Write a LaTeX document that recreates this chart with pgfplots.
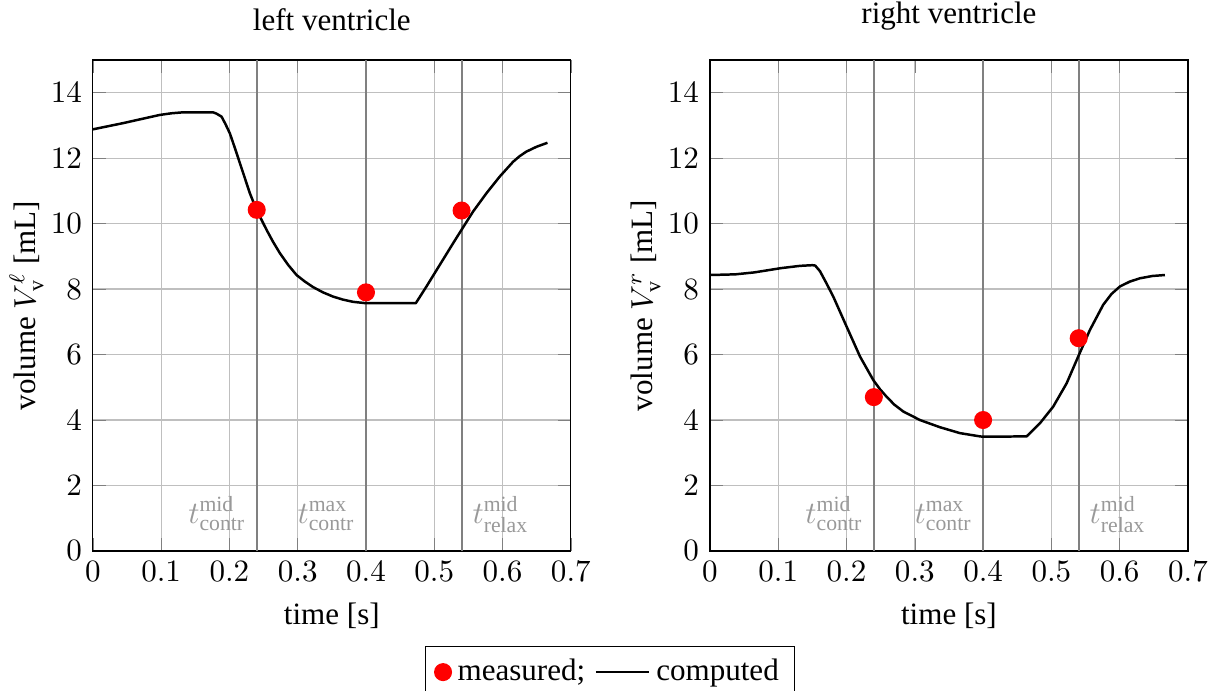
\documentclass[border=0pt]{standalone}
\usepackage{fontspec}
\setmainfont{Liberation Serif}
\usepackage{pgfplots}
\pgfplotsset{compat=1.18}

\tikzset{tlab/.style={black!40}}
\pgfplotsset{
  vent/.style={
    width=153.9pt, height=158.1pt, scale only axis,
    xmin=0, xmax=0.7, ymin=0, ymax=15,
    xtick={0,0.1,0.2,0.3,0.4,0.5,0.6,0.7},
    ytick={0,2,4,6,8,10,12,14},
    grid=major,
    major grid style={thin, black!25},
    xlabel={time [s]},
    ylabel shift=-4.5pt,
  },
  vline/.style={gray, semithick, forget plot},
  comp/.style={black, thick, line join=round},
  meas/.style={only marks, mark=*, red, mark size=2.7pt},
}

\begin{document}
\begin{tikzpicture}
\path[use as bounding box] (-29.9pt,-44.8pt) rectangle (362.6pt,177.4pt);

\begin{axis}[vent,
  title={left ventricle},
  ylabel={volume $V_{\mathrm{v}}^{\ell}$ [mL]},
  legend columns=2,
  legend style={at={(1.0816,-0.1935)}, anchor=north, draw=black,
    /tikz/every even column/.append style={column sep=1pt}},
]
\addplot[vline] coordinates {(0.24,0) (0.24,15)};
\addplot[vline] coordinates {(0.40,0) (0.40,15)};
\addplot[vline] coordinates {(0.54,0) (0.54,15)};
\addplot[meas] coordinates {(0.24,10.42) (0.40,7.9) (0.54,10.4)};
\addlegendentry{measured;}
\addplot[comp] coordinates {
(0,12.88) (0.0444,13.07) (0.070,13.19) (0.098,13.32) (0.115,13.37)
(0.132,13.40) (0.176,13.40) (0.181,13.36) (0.1884,13.27) (0.194,13.05)
(0.2006,12.76) (0.208,12.31) (0.2153,11.85) (0.2226,11.39) (0.2299,10.93)
(0.2397,10.42) (0.2544,9.81) (0.264,9.44) (0.2738,9.10) (0.286,8.74) (0.2983,8.43)
(0.3105,8.23) (0.3226,8.06) (0.337,7.90) (0.3519,7.77) (0.366,7.68) (0.3812,7.61) (0.3993,7.57)
(0.473,7.57) (0.4886,8.08) (0.5081,8.74) (0.5276,9.40) (0.5399,9.81)
(0.5569,10.37) (0.5765,10.93) (0.596,11.44) (0.6155,11.89) (0.625,12.06) (0.635,12.20)
(0.650,12.35) (0.6658,12.47)};
\addlegendentry{computed}
\node[tlab, anchor=base east] at (axis cs:0.24,0.85) {$t^{\mathrm{mid}}_{\mathrm{contr}}$};
\node[tlab, anchor=base east] at (axis cs:0.40,0.85) {$t^{\mathrm{max}}_{\mathrm{contr}}$};
\node[tlab, anchor=base west] at (axis cs:0.54,0.85) {$t^{\mathrm{mid}}_{\mathrm{relax}}$};
\end{axis}

\begin{axis}[vent, xshift=198.7pt,
  title={right ventricle},
  ylabel={volume $V_{\mathrm{v}}^{r}$ [mL]},
]
\addplot[vline] coordinates {(0.24,0) (0.24,15)};
\addplot[vline] coordinates {(0.40,0) (0.40,15)};
\addplot[vline] coordinates {(0.54,0) (0.54,15)};
\addplot[meas] coordinates {(0.24,4.7) (0.40,4.0) (0.54,6.5)};
\addplot[comp] coordinates {
(0,8.43) (0.037,8.45) (0.065,8.51) (0.104,8.64) (0.132,8.71) (0.150,8.73)
(0.154,8.72) (0.161,8.55) (0.170,8.20) (0.1806,7.77) (0.2002,6.85) (0.2197,5.94)
(0.2392,5.22) (0.249,4.94) (0.2587,4.71) (0.270,4.47) (0.2831,4.26) (0.3075,4.00) (0.3368,3.78)
(0.366,3.60) (0.3954,3.50) (0.40,3.49) (0.4637,3.50) (0.4832,3.90)
(0.5027,4.41) (0.5223,5.12) (0.5393,5.94) (0.5564,6.75) (0.5759,7.52)
(0.5880,7.85) (0.6004,8.08) (0.6150,8.23) (0.6297,8.33) (0.648,8.40)
(0.6663,8.43)};
\node[tlab, anchor=base east] at (axis cs:0.24,0.85) {$t^{\mathrm{mid}}_{\mathrm{contr}}$};
\node[tlab, anchor=base east] at (axis cs:0.40,0.85) {$t^{\mathrm{max}}_{\mathrm{contr}}$};
\node[tlab, anchor=base west] at (axis cs:0.54,0.85) {$t^{\mathrm{mid}}_{\mathrm{relax}}$};
\end{axis}
\end{tikzpicture}
\end{document}
